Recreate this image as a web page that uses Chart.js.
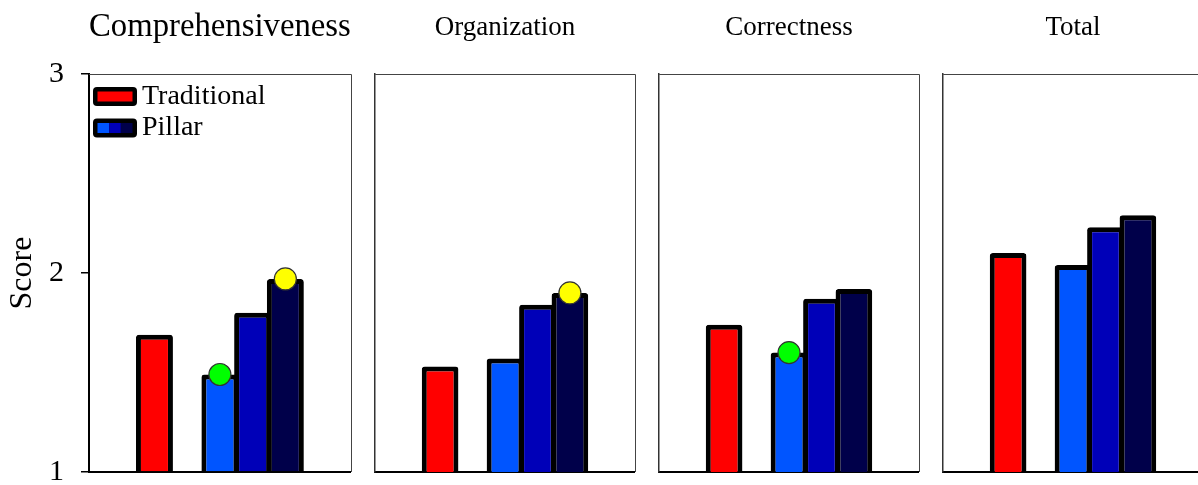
<!DOCTYPE html>
<html>
<head>
<meta charset="utf-8">
<title>Score</title>
<script src="https://cdn.jsdelivr.net/npm/chart.js@4.4.1/dist/chart.umd.min.js"></script>
<style>
  html, body { margin: 0; padding: 0; background: #fff; }
  body { width: 1198px; height: 485px; overflow: hidden; position: relative; }
  canvas { position: absolute; top: 0; }
</style>
</head>
<body>
<canvas id="c0" width="363" height="510" style="left:0px"></canvas>
<canvas id="c1" width="284" height="510" style="left:363px"></canvas>
<canvas id="c2" width="284" height="510" style="left:647px"></canvas>
<canvas id="c3" width="284" height="510" style="left:931px"></canvas>
<script>
// --- Daten ---
const panelTitles = ['Comprehensiveness', 'Organization', 'Correctness', 'Total'];
const traditional = [1.69, 1.53, 1.74, 2.10];
const pillarLight = [1.49, 1.57, 1.60, 2.04];
const pillarMid   = [1.80, 1.84, 1.87, 2.23];
const pillarDark  = [1.97, 1.90, 1.92, 2.29];
const greenDots  = [true, false, true, false];  // Punkt auf pillarLight
const yellowDots = [true, true, false, false];  // Punkt auf pillarDark
const yTicks = [1, 2, 3];
const slots = ['', '', 'Traditional', '', 'Pillar 1', 'Pillar 2', 'Pillar 3', '', ''];
const legendNames = ['Traditional', 'Pillar'];

const RED = '#ff0000', LIGHT = '#0055ff', MID = '#0000b8', DARK = '#00004a';
const FONT = "'Liberation Serif', 'Times New Roman', serif";

Chart.defaults.font.family = FONT;
Chart.defaults.color = '#000';

const slotColors = slots.map(s => ({ 'Traditional': RED, 'Pillar 1': LIGHT, 'Pillar 2': MID, 'Pillar 3': DARK }[s] || 'transparent'));

function barData(i) {
  const d = slots.map(() => null);
  d[slots.indexOf('Traditional')] = traditional[i];
  d[slots.indexOf('Pillar 1')] = pillarLight[i];
  d[slots.indexOf('Pillar 2')] = pillarMid[i];
  d[slots.indexOf('Pillar 3')] = pillarDark[i];
  return d;
}

function dotData(flags, values, slotName, i) {
  const d = slots.map(() => null);
  if (flags[i]) d[slots.indexOf(slotName)] = values[i];
  return d;
}

// Rahmen oben + rechts
const framePlugin = {
  id: 'frame',
  afterDraw(chart) {
    const { ctx, chartArea: a } = chart;
    ctx.save();
    ctx.strokeStyle = '#444';
    ctx.lineWidth = 1;
    ctx.beginPath();
    ctx.moveTo(a.left, Math.round(a.top) + 0.5);
    ctx.lineTo(Math.round(a.right) + 0.5, Math.round(a.top) + 0.5);
    ctx.lineTo(Math.round(a.right) + 0.5, a.bottom);
    ctx.stroke();
    ctx.restore();
  }
};

// Legende im Plotbereich (nur erstes Panel)
const legendPlugin = {
  id: 'insideLegend',
  afterDraw(chart) {
    const { ctx, chartArea } = chart;
    const x = chartArea.left + 4, w = 44, h = 19, b = 4.5;
    legendNames.forEach((name, k) => {
      const cy = chartArea.top + 22.5 + k * 31.5;
      ctx.save();
      ctx.fillStyle = '#000';
      ctx.beginPath();
      ctx.roundRect(x, cy - h / 2, w, h, 4);
      ctx.fill();
      const fills = k === 0 ? [RED] : [LIGHT, MID, DARK];
      const iw = (w - 2 * b) / fills.length;
      fills.forEach((c, j) => {
        ctx.fillStyle = c;
        ctx.fillRect(x + b + j * iw, cy - h / 2 + b, iw, h - 2 * b);
      });
      ctx.fillStyle = '#000';
      ctx.font = '28px ' + FONT;
      ctx.textAlign = 'left';
      ctx.textBaseline = 'alphabetic';
      ctx.fillText(name, x + w + 5, cy + 7);
      ctx.restore();
    });
  }
};

panelTitles.forEach((title, i) => {
  const first = i === 0;
  new Chart(document.getElementById('c' + i), {
    type: 'bar',
    data: {
      labels: slots,
      datasets: [
        {
          type: 'line',
          data: dotData(greenDots, pillarLight, 'Pillar 1', i),
          showLine: false,
          pointRadius: 11,
          pointBackgroundColor: '#00ff00',
          pointBorderColor: '#333',
          pointBorderWidth: 1.2,
          order: 0
        },
        {
          type: 'line',
          data: dotData(yellowDots, pillarDark, 'Pillar 3', i),
          showLine: false,
          pointRadius: 11,
          pointBackgroundColor: '#ffff00',
          pointBorderColor: '#333',
          pointBorderWidth: 1.2,
          order: 0
        },
        {
          data: barData(i),
          base: yTicks[0],
          backgroundColor: slotColors,
          borderColor: '#000',
          borderWidth: 5,
          borderRadius: 3,
          borderSkipped: 'start',
          barPercentage: 1.13,
          categoryPercentage: 1,
          order: 1
        }
      ]
    },
    options: {
      responsive: false,
      animation: false,
      devicePixelRatio: 1,
      layout: { padding: { left: 0, right: 10, top: 0, bottom: 0 } },
      plugins: {
        legend: { display: false },
        tooltip: { enabled: false },
        title: {
          display: true,
          fullSize: false,
          text: title,
          color: '#000',
          font: { family: FONT, size: first ? 33 : 27, weight: 'normal' },
          padding: first ? { top: 8, bottom: 26.4 } : { top: 11.5, bottom: 30.1 }
        }
      },
      scales: {
        x: {
          offset: false,
          grid: { display: false },
          ticks: { display: false },
          border: { display: true, color: '#000', width: 2 },
          afterFit: s => { s.height = 38; }
        },
        y: {
          min: yTicks[0],
          max: yTicks[yTicks.length - 1],
          afterBuildTicks: s => { s.ticks = yTicks.map(v => ({ value: v })); },
          ticks: { display: first, color: '#000', padding: 17, font: { family: FONT, size: 30 } },
          grid: { display: first, drawOnChartArea: false, drawTicks: true, tickLength: 8, color: '#000', lineWidth: 1.5 },
          border: { display: true, color: first ? '#000' : '#333', width: first ? 2 : 1.5 },
          title: {
            display: first,
            text: 'Score',
            color: '#000',
            font: { family: FONT, size: 32 },
            padding: { top: 3, bottom: 0 }
          },
          afterFit: s => { s.width = first ? 89 : 10; }
        }
      }
    },
    plugins: first ? [framePlugin, legendPlugin] : [framePlugin]
  });
});
</script>
</body>
</html>
